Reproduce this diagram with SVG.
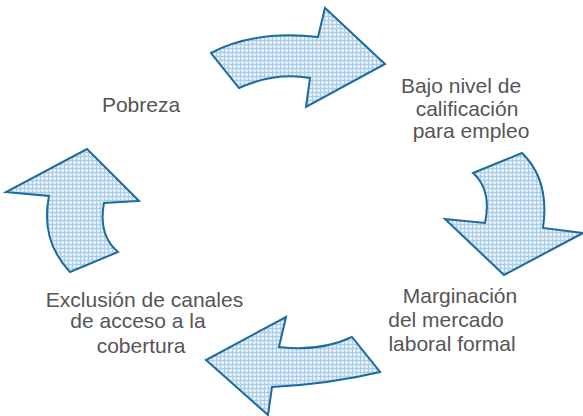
<svg xmlns="http://www.w3.org/2000/svg" width="583" height="416" viewBox="0 0 583 416">
<defs>
<pattern id="pt" width="4" height="4" patternUnits="userSpaceOnUse">
<rect width="4" height="4" fill="#dcebf6"/>
<rect x="0" y="0" width="4" height="1" fill="#a9cce7"/>
<rect x="0" y="0" width="1" height="4" fill="#a9cce7"/>
<rect x="2" y="2" width="1" height="1" fill="#ffffff"/>
</pattern>
</defs>
<style>
.ar{fill:url(#pt);stroke:#1d6b9c;stroke-width:2;stroke-linejoin:miter}
.t{font-family:"Liberation Sans",Arial,sans-serif;font-size:21px;fill:#555555;text-anchor:middle}
</style>
<rect width="583" height="416" fill="#ffffff"/>
<g id="connectors">
<path id="arrow-top" class="ar" d="M211,53 Q255,30 318,37 L325,8 L385,64 L306,107 L310,78 Q275,72 239,88 Z"/>
<path id="arrow-right" class="ar" d="M473,173 L522,153 Q550,180 543,228 L583,233 L504,275 L445,219 L485,223 Q492,190 473,173 Z"/>
<path id="arrow-bottom" class="ar" d="M286,317 L279,347 Q320,352 352,337 L380,372 Q330,384 272,387 L268,415 L206,360 Z"/>
<path id="arrow-left" class="ar" d="M87,149 L139,201 L104,203 Q98,235 118,252 L70,272 Q40,240 49,196 L6,192 Z"/>
</g>
<g id="node-pobreza"><text class="t" x="141" y="112">Pobreza</text></g>
<g id="node-calificacion">
<text class="t" x="461" y="93">Bajo nivel de</text>
<text class="t" x="467" y="116">calificación</text>
<text class="t" x="471" y="138">para empleo</text>
</g>
<g id="node-marginacion">
<text class="t" x="460" y="303">Marginación</text>
<text class="t" x="446" y="327">del mercado</text>
<text class="t" x="452" y="351">laboral formal</text>
</g>
<g id="node-exclusion">
<text class="t" x="144.5" y="307">Exclusión de canales</text>
<text class="t" x="138" y="328">de acceso a la</text>
<text class="t" x="141" y="353">cobertura</text>
</g>
</svg>
